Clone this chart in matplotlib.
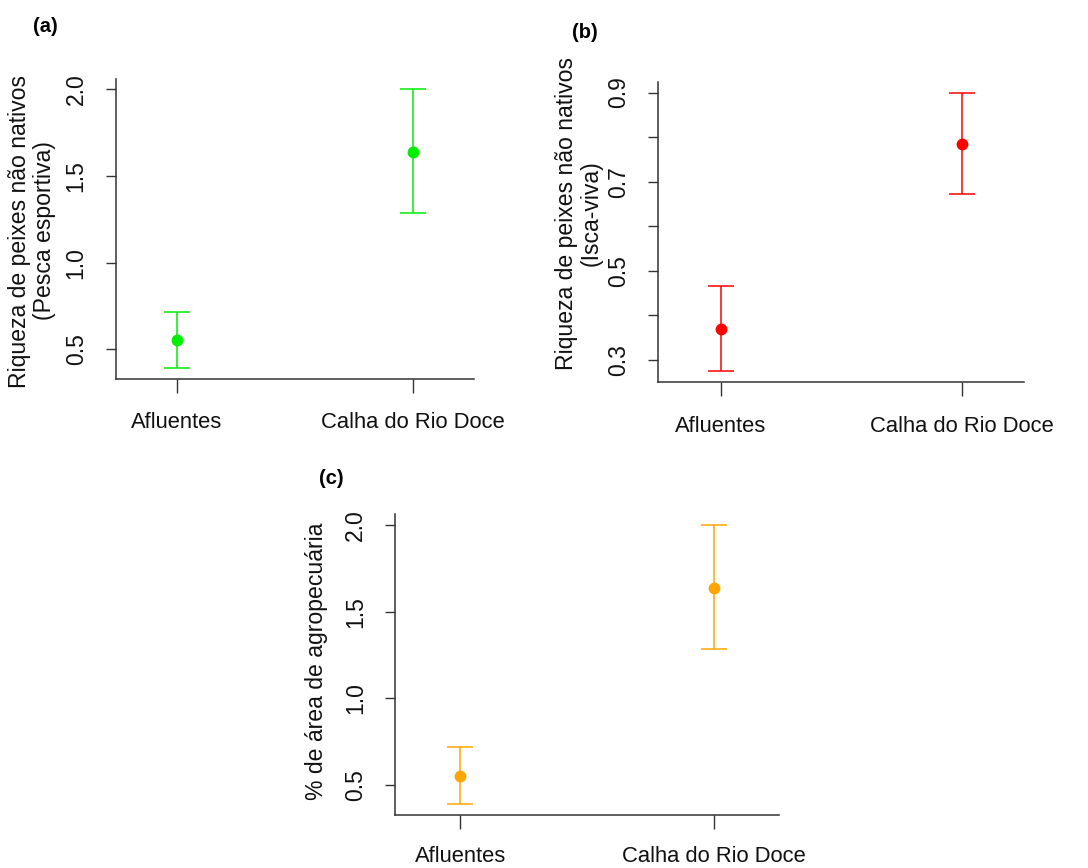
"""Error-bar panels: non-native fish richness and agro area by site group."""

import matplotlib
matplotlib.use("Agg")
import matplotlib.pyplot as plt

plt.rcParams["font.family"] = ["Liberation Sans", "DejaVu Sans"]

groups = ["Afluentes", "Calha do Rio Doce"]

pesca_mean = [0.552, 1.638]
pesca_low = [0.392, 1.285]
pesca_high = [0.717, 2.0]

isca_mean = [0.369, 0.785]
isca_low = [0.275, 0.672]
isca_high = [0.465, 0.9]

agro_mean = [0.553, 1.638]
agro_low = [0.392, 1.285]
agro_high = [0.718, 2.0]

W, H = 1088, 868


def px_axes(fig, left, right, top, bottom):
    return fig.add_axes([left / W, 1 - bottom / H, (right - left) / W, (bottom - top) / H])


def draw_panel(ax, mean, low, high, color, yticks, ylabels, ylim):
    x = [1, 2]
    yerr = [[m - lo for m, lo in zip(mean, low)], [hi - m for m, hi in zip(mean, high)]]
    ax.errorbar(x, mean, yerr=yerr, fmt="o", color=color, ecolor=color,
                markersize=7.5, elinewidth=1.1, capsize=9.5, capthick=1.1)
    ax.set_xlim(0.742, 2.258)
    ax.set_ylim(*ylim)
    ax.set_xticks(x)
    ax.set_xticklabels(groups, fontsize=15.8)
    ax.set_yticks(yticks)
    ax.set_yticklabels(ylabels, fontsize=16.5, rotation=90, va="center")
    for side in ["top", "right"]:
        ax.spines[side].set_visible(False)
    for side in ["left", "bottom"]:
        ax.spines[side].set_color("#333333")
        ax.spines[side].set_linewidth(1.1)
    ax.tick_params(axis="x", length=10, width=1.0, color="#333333", pad=14, labelcolor="#111111")
    ax.tick_params(axis="y", length=7.2, width=1.0, color="#333333", pad=13, labelcolor="#111111")


def main() -> None:
    fig = plt.figure(figsize=(W / 100, H / 100), dpi=100)

    ax_a = px_axes(fig, 115.7, 474.3, 79, 379)
    draw_panel(ax_a, pesca_mean, pesca_low, pesca_high, "#00ee00",
               [0.5, 1.0, 1.5, 2.0], ["0.5", "1.0", "1.5", "2.0"], (0.329, 2.059))

    ax_b = px_axes(fig, 658.3, 1024.3, 82.3, 382.3)
    draw_panel(ax_b, isca_mean, isca_low, isca_high, "#ff0000",
               [0.3, 0.4, 0.5, 0.6, 0.7, 0.8, 0.9], ["0.3", "", "0.5", "", "0.7", "", "0.9"], (0.25, 0.923))

    ax_c = px_axes(fig, 395, 779.3, 514.3, 815)
    draw_panel(ax_c, agro_mean, agro_low, agro_high, "#ffa500",
               [0.5, 1.0, 1.5, 2.0], ["0.5", "1.0", "1.5", "2.0"], (0.327, 2.064))
    ax_c.tick_params(axis="x", pad=12)

    # y labels placed by pixel centre
    fig.text(32 / W, 1 - 231 / H, "Riqueza de peixes não nativos\n(Pesca esportiva)",
             rotation=90, ha="center", va="center", multialignment="center",
             fontsize=16.6, linespacing=1.1, color="#111111")
    fig.text(579 / W, 1 - 213 / H, "Riqueza de peixes não nativos\n(Isca-viva)",
             rotation=90, ha="center", va="center", multialignment="center",
             fontsize=16.6, linespacing=1.1, color="#111111")
    fig.text(316 / W, 1 - 661 / H, "% de área de agropecuária",
             rotation=90, ha="center", va="center", fontsize=16.6, color="#111111")

    # panel letters
    for label, px, py in [("(a)", 45, 26), ("(b)", 585, 32), ("(c)", 331, 478)]:
        fig.text(px / W, 1 - py / H, label, ha="center", va="center",
                 fontsize=14.5, fontweight="bold")

    fig.savefig("out.png", dpi=100, facecolor="white")
    plt.close(fig)


if __name__ == "__main__":
    main()
